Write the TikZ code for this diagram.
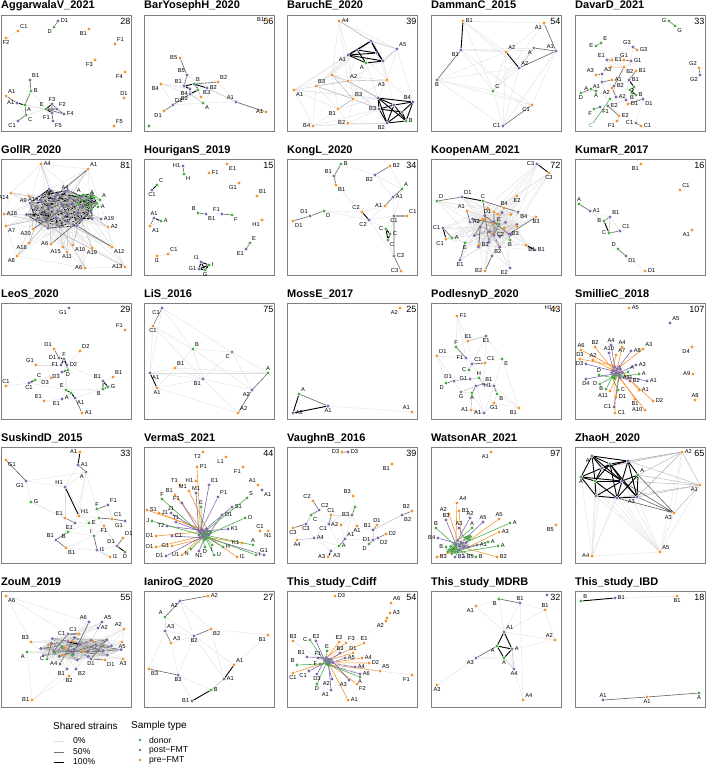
\documentclass[tikz,border=0pt]{standalone}
\usepackage{fontspec}
\setmainfont{Liberation Sans}
\usetikzlibrary{backgrounds}

\definecolor{cdon}{RGB}{77,170,74}
\definecolor{cpst}{RGB}{125,105,172}
\definecolor{cpre}{RGB}{242,148,48}

\tikzset{
  nd/.style={circle,inner sep=0pt,minimum size=3.4pt},
  ndon/.style={nd,fill=cdon,every label/.append style={text=cdon}},
  npst/.style={nd,fill=cpst,every label/.append style={text=cpst}},
  npre/.style={nd,fill=cpre,every label/.append style={text=cpre}},
  every label/.style={font=\fontsize{5.7}{6}\selectfont,inner sep=0.7pt},
  lbl/.style={font=\fontsize{5.7}{6}\selectfont,inner sep=0.7pt},
  e0/.style={draw=black!13,line width=0.35pt},
  e1/.style={draw=black!30,line width=0.45pt},
  e2/.style={draw=black!58,line width=0.65pt},
  e3/.style={draw=black,line width=0.9pt},
  ldon/.style={draw=cdon,line width=0.6pt},
  lpst/.style={draw=cpst,line width=0.6pt},
  lpre/.style={draw=cpre,line width=0.6pt},
  pbox/.style={draw=black!50,line width=0.8pt},
  ttl/.style={anchor=base west,inner sep=0pt,font=\bfseries\fontsize{11}{13}\selectfont},
  cnt/.style={anchor=north east,inner sep=0pt,font=\fontsize{9}{11}\selectfont},
  legt/.style={anchor=west,inner sep=0pt,font=\fontsize{10}{12}\selectfont},
  legi/.style={anchor=west,inner sep=0pt,font=\fontsize{8.6}{10}\selectfont},
}

% frame, title and count of one panel
\newcommand{\panelframe}[2]{%
  \draw[pbox] (0,0) rectangle (130,116);
  \node[ttl] (title) at (0,-6) {#1};
  \node[cnt] (count) at (129.5,3) {#2};}
% a cloud of unlabeled samples: name, count, cx, cy, rx, ry, style
\newcommand{\cloud}[7]{%
  \foreach \i in {1,...,#2}{%
    \pgfmathsetmacro{\rr}{sqrt((\i-0.5)/#2)}%
    \node[#7] (#1\i) at ({#3+#5*\rr*cos(137.5*\i)},{#4+#6*\rr*sin(137.5*\i)}) {};}}
% links inside a cloud: name, count, steps, style
\newcommand{\mesh}[4]{%
  \foreach \i in {1,...,#2}{\foreach \s in {#3}{%
    \pgfmathtruncatemacro{\j}{mod(\i+\s-1,#2)+1}%
    \draw[#4] (#1\i) -- (#1\j);}}}
% links from listed nodes into a cloud: cloud, count, nodes, steps, style
\newcommand{\fan}[5]{%
  \foreach \t [count=\k] in {#3}{\foreach \s in {#4}{%
    \pgfmathtruncatemacro{\j}{mod(3*\k+\s,#2)+1}%
    \draw[#5] (\t) -- (#1\j);}}}

\begin{document}
\begin{tikzpicture}[x=1pt,y=-1pt]
\useasboundingbox (0,0) rectangle (706,768);

%% row 1
\begin{scope}[shift={(1,15)},name prefix=agg-]
\panelframe{AggarwalaV\_2021}{28}
\node[npre,label=above right:C1] (rC1) at (17,16) {};
\node[npre,label=below:F2] (rF2) at (5,23) {};
\node[npst,label=right:D1] (tD1) at (57,6) {};
\node[ndon,label=below left:D] (dD) at (53,12) {};
\node[npre,label=below left:B1] (rB1) at (88,14) {};
\node[npre,label=above right:F1] (rF1) at (114,29) {};
\node[npre,label=below left:F3] (rF3) at (94,45) {};
\node[npre,label=below left:F4] (rF4) at (124,57) {};
\node[npre,label=above:D1] (rD1) at (123,83) {};
\node[npre,label=above right:F5] (rF5) at (113,111) {};
\node[npst,label=above right:B1] (tB1) at (29,65) {};
\node[ndon,label=right:B] (dB) at (30,76) {};
\node[npre,label=above right:A1] (rA1) at (5,81) {};
\node[npst,label=left:A1] (tA1) at (16,88) {};
\node[ndon,label=below right:A] (dA) at (24,90) {};
\node[ndon,label=above left:E] (dE) at (45,94) {};
\node[ndon,label=below right:C] (dC) at (25,100) {};
\node[npst,label=below left:C1] (tC1) at (17,106) {};
\node[npst,label=above:F3] (tF3) at (51,89) {};
\node[npst,label=above right:F2] (tF2) at (56,94) {};
\node[npst,label=right:F4] (tF4) at (63,99) {};
\node[npst,label=below left:F1] (tF1) at (51,98) {};
\node[npst,label=below right:F5] (tF5) at (52,106) {};
\begin{scope}[on background layer]
\draw[e0] (rC1) -- (rF2) (tB1) -- (dA) (dB) -- (dE) (dA) -- (dE) (tA1) -- (dC) (dC) -- (dE) (dE) -- (tF5) (dA) -- (tF4);
\draw[e2] (dD) -- (tD1) (tB1) -- (dB) (dB) -- (dA) (rA1) -- (tA1) (dA) -- (dC) (dC) -- (tC1);
\draw[e3] (tA1) -- (dA) (dE) -- (tF3) (dE) -- (tF2) (dE) -- (tF1);
\draw[e2] (dE) -- (tF4) (tF3) -- (tF1) (tF2) -- (tF4) (tF1) -- (tF5) (tF3) -- (tF2);
\end{scope}
\end{scope}

\begin{scope}[shift={(144,15)},name prefix=byh-]
\panelframe{BarYosephH\_2020}{56}
\node[npre,label=left:B1] (rB1) at (123,5) {};
\node[npre,label=left:B5] (rB5) at (36,43) {};
\node[npst,label=above left:B5] (tB5) at (43,60) {};
\node[npst,label=above left:B1] (tB1) at (40,71) {};
\node[ndon,label=above right:B] (dB) at (50,69) {};
\node[npre,label=above right:B2] (rB2) at (74,67) {};
\node[npst,label=right:B2] (tB2) at (63,73) {};
\node[npre,label=below left:B4] (rB4) at (17,69) {};
\node[npst,label=below left:B4] (tB4) at (46,74) {};
\node[npst,label=below left:B3] (tB3) at (46,79) {};
\node[npre,label=above right:B3] (rB3) at (57,82) {};
\node[npst,label=above right:D1] (tD1) at (29,90) {};
\node[npre,label=below left:D1] (rD1) at (20,96) {};
\node[ndon,label=below right:A] (dA) at (59,88) {};
\node[npst,label=above left:A1] (tA1) at (92,87) {};
\node[npre,label=left:A1] (rA1) at (122,97) {};
\node[ndon] (dD) at (5,111) {};
\node[ndon] (dB2) at (54,75) {};
\node[npst] (tX) at (52,70) {};
\begin{scope}[on background layer]
\draw[e0] (rB4) -- (tB1) (rB4) -- (tD1) (rB4) -- (tB3) (rB2) -- (tA1) (dA) -- (tA1) (tB5) -- (tB2) (rB4) -- (tB4) (tD1) -- (dA) (rB3) -- (tB2) (rB2) -- (dA);
\draw[e1] (tB3) -- (dA) (dB2) -- (rB3) (tB2) -- (tA1);
\draw[e2] (rB5) -- (tB5) (tB5) -- (tB1) (tB3) -- (tD1) (tD1) -- (rD1) (tA1) -- (rA1) (dB) -- (rB2);
\draw[e3] (tB1) -- (dB) (dB) -- (tB2) (tB1) -- (tB4) (tB4) -- (tB3) (dB2) -- (tX) (tX) -- (dB) (dB2) -- (tB3);
\end{scope}
\end{scope}

\begin{scope}[shift={(287,15)},name prefix=bch-]
\panelframe{BaruchE\_2020}{39}
\node[npre,label=right:A4] (rA4) at (52,6) {};
\node[npst,label=above right:A5] (tA5) at (110,34) {};
\node[npst] (t1) at (84,26) {};
\node[npst,label=below left:A1] (t2) at (61,40) {};
\node[npst] (t3) at (96,46) {};
\node[npst] (t4) at (90,38) {};
\node[npst] (t5) at (70,35) {};
\node[ndon,label=below left:A] (dA) at (79,48) {};
\node[npre,label=below right:A1] (rA1) at (7,75) {};
\node[npre,label=above right:B3] (r1) at (29,71) {};
\node[npre] (r2) at (45,60) {};
\node[npre,label=above right:A2] (r3) at (61,66) {};
\node[npre,label=below left:A3] (r4) at (100,65) {};
\node[npre,label=above right:B3] (r5) at (66,84) {};
\node[npre,label=below left:B1] (rB1) at (51,94) {};
\node[npre,label=left:B4] (rB4) at (26,111) {};
\node[npre,label=left:B2] (rB2) at (61,108) {};
\node[npst] (b1) at (91,83) {};
\node[npst] (b2) at (107,90) {};
\node[npst,label=above left:B4] (tB4) at (126,87) {};
\node[npst,label=left:B3] (b3) at (92,94) {};
\node[npst,label=below left:B2] (tB2) at (100,108) {};
\node[ndon,label=right:B] (dB) at (119,106) {};
\node[npst] (b4) at (115,97) {};
\begin{scope}[on background layer]
\foreach \a/\b in {rA4/t1,rA4/t2,rA4/r2,rA1/r1,rA1/r2,rA1/t2,rA1/rB4,rA1/r3,rA1/b1,r1/r2,r1/rB1,r1/rB4,r1/r5,r2/t2,r2/r4,r2/b1,r3/t5,r3/b1,r4/tA5,r4/t3,r4/b1,r4/tB4,r5/rB1,r5/b1,r5/b3,r5/rB2,rB1/rB2,rB1/rB4,rB1/b1,rB2/rB4,rB2/tB2,rB2/b3,tA5/tB4,tA5/r3,t1/r2,dA/r5,t5/r1,rA1/tB4,r1/t1,r2/b3,r3/tB2,t2/r5,t4/r4,rA4/tA5,rA1/t5,r4/r5,b2/r3,rB4/b3,rA4/r3,t2/r1,t3/b2,dA/b1,rB4/tB2,rA1/rB1,t5/r4,r2/rB1}
  \draw[e0] (\a) -- (\b);
\foreach \a/\b in {r2/r3,r3/r4,r1/r5,r3/b1,rA4/t1,t1/tA5,tA5/t3,r1/r3,r5/b3,r2/r5,rB1/r5}
  \draw[e1] (\a) -- (\b);
\foreach \a/\b in {t1/t2,t1/t3,t1/t4,t2/t4,t2/t5,t5/t4,t5/dA,t2/dA,t4/t3,t3/dA,t2/t3,t5/t1,b1/b2,b1/tB4,b1/b3,b1/tB2,b2/tB4,b2/b3,b2/dB,tB4/b4,tB4/dB,b3/tB2,b3/b4,tB2/dB,tB2/b4,b4/dB,b1/dB,b2/tB2}
  \draw[e3] (\a) -- (\b);
\end{scope}
\end{scope}

\begin{scope}[shift={(431,15)},name prefix=dam-]
\panelframe{DammanC\_2015}{54}
\node[npre,label=right:B1] (rB1) at (32,6) {};
\node[npst,label=below left:B1] (tB1) at (30,35) {};
\node[npre,label=below left:A1] (rA1) at (113,8) {};
\node[npst,label=above left:A1] (tA1) at (125,36) {};
\node[npre,label=above right:A2] (rA2) at (75,37) {};
\node[ndon,label=below left:A] (dA) at (103,33) {};
\node[npst,label=above right:A2] (tA2) at (88,53) {};
\node[ndon,label=below:B] (dB) at (6,65) {};
\node[ndon,label=above right:C] (dC) at (62,76) {};
\node[npre,label=below left:C1] (rC1) at (101,90) {};
\node[npst,label=left:C1] (tC1) at (72,111) {};
\begin{scope}[on background layer]
\foreach \a/\b in {tB1/rA2,tB1/dA,tB1/tA1,tB1/rC1,tB1/dC,dB/rA2,dB/dC,dB/rC1,rB1/rA1,rB1/dC,rB1/tA2,rA1/rA2,rA1/dC,rA2/dC,tA2/dC,dC/tC1,dC/rC1,tA1/rC1,tA2/tC1,dB/tC1,rA2/tC1,dA/dC,rB1/rA2,dB/tA2,tA1/tC1}
  \draw[e0] (\a) -- (\b);
\draw[e1] (dA) -- (tA2);
\draw[e2] (rA1) -- (tA1) (tA1) -- (dA) (tA1) -- (tA2) (rC1) -- (tC1) (tB1) -- (dB);
\draw[e3] (rB1) -- (tB1) (rA2) -- (tA2);
\end{scope}
\end{scope}

\begin{scope}[shift={(575,15)},name prefix=dav-]
\panelframe{DavarD\_2021}{33}
\node[ndon,label=left:G] (dG1) at (94,6) {};
\node[ndon,label=below right:G] (dG2) at (100,11) {};
\node[ndon,label=left:E] (dE1) at (21,31) {};
\node[ndon,label=above right:E] (dE2) at (26,28) {};
\node[npst,label=above left:E1] (tE1) at (32,45) {};
\node[npst,label=above left:G3] (tG3) at (58,32) {};
\node[npre,label=right:G3] (rG3) at (62,35) {};
\node[npre,label=above:G1] (rG1) at (49,45) {};
\node[npst,label=right:G1] (tG1) at (56,46) {};
\node[npre,label=right:E1] (rE1) at (37,45) {};
\node[npre,label=above left:A3] (rA3) at (21,60) {};
\node[npst,label=above right:A3] (tA3) at (27,59) {};
\node[npst,label=below left:A1] (tA1) at (27,67) {};
\node[npre] (rX) at (36,52) {};
\node[npre,label=right:A1] (rA1) at (37,65) {};
\node[npre,label=below right:B2] (rB2) at (49,52) {};
\node[npre,label=right:B1] (rB1) at (61,56) {};
\node[npst,label=right:B2] (tB2) at (39,71) {};
\node[npst,label=right:B1] (tB1) at (54,65) {};
\node[ndon,label=left:A] (dA1) at (16,74) {};
\node[ndon,label=below:A] (dA2) at (21,76) {};
\node[ndon,label=below:D] (dD) at (6,78) {};
\node[npre,label=below left:A2] (rA2) at (37,73) {};
\node[ndon] (dB1) at (55,75) {};
\node[ndon] (dB2) at (59,72) {};
\node[ndon,label=below:B] (dB3) at (57,78) {};
\node[ndon,label=right:B] (dB4) at (61,80) {};
\node[npst,label=right:A2] (tA2) at (41,82) {};
\node[ndon] (dC) at (35,84) {};
\node[npst,label=right:E2] (tE2) at (33,91) {};
\node[npre,label=right:D1] (rD1) at (53,89) {};
\node[npst,label=below right:D1] (tD1) at (68,84) {};
\node[npst] (tX) at (51,85) {};
\node[ndon,label=below left:F] (dF) at (19,94) {};
\node[npst,label=below right:F1] (tF1) at (25,92) {};
\node[npre,label=right:E2] (rE2) at (44,101) {};
\node[npre,label=below left:F1] (rF1) at (42,106) {};
\node[npst,label=left:C1] (tC1) at (61,108) {};
\node[npre,label=right:C1] (rC1) at (66,111) {};
\node[npre,label=above left:G2] (rG2) at (124,53) {};
\node[npst,label=below left:G2] (tG2) at (125,60) {};
\node[lbl,text=cdon] (labC) at (16,111) {C};
\begin{scope}[on background layer]
\foreach \a/\b in {tE1/tG3,tE1/tG1,tE1/rX,tE1/tA3,tE1/rB2,tG3/tG1,tG1/tB1,tA3/tA1,tA3/rX,tA1/tB2,tA1/dA2,tB2/tB1,tB2/tA2,tB1/tX,tX/tE2,tX/tD1,tA2/tE2,tA2/tX,tE2/tC1,tD1/tC1,dA2/dC,dC/tA2,tB1/tD1,rX/rB2,tE1/dE2,tG1/tB2,tA1/tE2,dA1/tA1,dD/dA2,rE2/rF1}
  \draw[e0] (\a) -- (\b);
\draw[e2] (dG1) -- (dG2) (dE1) -- (dE2) (rG3) -- (tG3) (rG1) -- (tG1) (rE1) -- (tE1) (rA3) -- (tA3) (rA1) -- (tA1) (rB2) -- (tB2) (rB1) -- (tB1) (rA2) -- (tA2) (rD1) -- (tD1) (rE2) -- (tE2) (rC1) -- (tC1) (rG2) -- (tG2) (dA1) -- (dA2) (dA1) -- (dD) (dF) -- (tF1);
\draw[e3] (dB1) -- (dB2) (dB2) -- (dB3) (dB3) -- (dB4) (dB1) -- (dB4) (tB1) -- (dB2);
\draw[ldon] (dC) -- (labC);
\end{scope}
\end{scope}

%% row 2
\begin{scope}[shift={(1,159)},name prefix=gol-]
\panelframe{GollR\_2020}{81}
\cloud{h}{30}{60}{50}{36}{22}{npst}
\cloud{g}{12}{87}{42}{12}{9}{ndon}
\node[ndon,label=above left:A] (dA1) at (82,36) {};
\node[ndon,label=above:A] (dA2) at (91,38) {};
\node[ndon,label=above right:A] (dA3) at (99,41) {};
\node[ndon,label=right:A] (dA4) at (97,48) {};
\node[npst,label=above:A4] (tA4) at (64,33) {};
\node[npst,label=above left:A5] (tA5) at (54,38) {};
\node[npst,label=left:A14] (tA14) at (40,41) {};
\node[npst,label=right:A19] (tA19) at (100,60) {};
\node[npre,label=right:A4] (rA4) at (40,5) {};
\node[npre,label=above right:A1] (rA1) at (87,10) {};
\node[npre,label=below left:A14] (rA14) at (10,34) {};
\node[npre,label=below left:A9] (rA9) at (28,37) {};
\node[npre,label=right:A18] (rA18) at (3,55) {};
\node[npre,label=below right:A7] (rA7) at (5,67) {};
\node[npre,label=below left:A20] (rA20) at (32,70) {};
\node[npre,label=below left:A16] (rA16) at (28,84) {};
\node[npre,label=below left:A8] (rA8) at (16,97) {};
\node[npre,label=left:A6] (rA6) at (50,85) {};
\node[npre,label=below left:A15] (rA15) at (62,88) {};
\node[npre,label=below:A11] (rA11) at (66,93) {};
\node[npre,label=below right:A10] (rA10) at (72,86) {};
\node[npre,label=below:A19] (rA19) at (91,89) {};
\node[npre,label=left:A6] (rA6b) at (84,109) {};
\node[npre,label=left:A13] (rA13) at (124,108) {};
\node[npre,label=below right:A12] (rA12) at (111,88) {};
\node[npre,label=right:A2] (rA2) at (107,68) {};
\begin{scope}[on background layer]
\mesh{h}{30}{1,4,9,14}{e0}
\mesh{h}{30}{2,11}{e1}
\mesh{h}{30}{6}{e2}
\mesh{h}{30}{1,3}{e3}
\mesh{g}{12}{1,3,5}{e3}
\fan{h}{30}{dA1,dA2,dA3,dA4,tA4,tA5,tA14,tA19}{0,10}{e1}
\fan{g}{12}{dA1,dA2,dA3,dA4}{0}{ldon}
\fan{h}{30}{g1,g2,g3,g4,g5,g6,g7,g8,g9,g10,g11,g12}{2,17}{e1}
\fan{h}{30}{rA4,rA1,rA14,rA9,rA18,rA7,rA20,rA16,rA8,rA6,rA15,rA11,rA10,rA19,rA6b,rA13,rA12,rA2}{0,7,14,21}{e0}
\fan{h}{30}{rA4,rA1,rA14,rA9,rA18,rA7,rA20,rA16,rA8,rA6,rA15,rA11,rA10,rA19,rA6b,rA13,rA12,rA2}{3}{e1}
\fan{h}{30}{rA1,rA20,rA6,rA12}{11}{e2}
\draw[e0] (rA4) -- (rA1) (rA14) -- (rA18) (rA18) -- (rA7) (rA7) -- (rA8) (rA8) -- (rA6b) (rA6b) -- (rA13) (rA13) -- (rA12) (rA12) -- (rA2) (rA2) -- (rA1) (rA4) -- (rA14);
\end{scope}
\end{scope}

\begin{scope}[shift={(144,159)},name prefix=hou-]
\panelframe{HouriganS\_2019}{15}
\node[npst,label=left:H1] (tH1) at (39,7) {};
\node[ndon,label=below right:H] (dH) at (40,15) {};
\node[npre,label=right:F1] (rF1) at (65,14) {};
\node[npre,label=below right:E1] (rE1) at (83,5) {};
\node[npre,label=below left:G1] (rG1) at (95,24) {};
\node[npre,label=above right:B1] (rB1) at (113,37) {};
\node[ndon,label=above right:C] (dC) at (13,26) {};
\node[npst,label=below:C1] (tC1) at (8,31) {};
\node[npst,label=above:A1] (tA1) at (10,59) {};
\node[ndon,label=right:A] (dA) at (17,62) {};
\node[npre,label=below right:A1] (rA1) at (6,67) {};
\node[ndon,label=above left:B] (dB) at (54,54) {};
\node[npst,label=below right:B1] (tB1) at (62,55) {};
\node[npst,label=above left:F1] (tF1) at (78,55) {};
\node[ndon,label=below right:F] (dF) at (88,56) {};
\node[npre,label=below left:H1] (rH1) at (118,61) {};
\node[ndon,label=above right:E] (dE) at (106,84) {};
\node[npst,label=below left:E1] (tE1) at (102,90) {};
\node[npre,label=above right:C1] (rC1) at (24,95) {};
\node[npre,label=below:I1] (rI1) at (13,97) {};
\node[npst,label=above left:I1] (tI1) at (57,103) {};
\node[ndon,label=right:I] (dI) at (65,106) {};
\node[npst,label=left:G1] (tG1) at (55,110) {};
\node[ndon,label=below:G] (dG) at (61,111) {};
\begin{scope}[on background layer]
\draw[e0] (rC1) -- (rI1) (tB1) -- (tF1) (dA) -- (rA1);
\draw[e2] (tH1) -- (dH) (tA1) -- (rA1) (dB) -- (tB1) (tF1) -- (dF) (dE) -- (tE1);
\draw[e3] (dC) -- (tC1) (tA1) -- (dA) (tI1) -- (dI) (dI) -- (dG) (tG1) -- (dG) (tI1) -- (tG1) (tI1) -- (dG) (dI) -- (tG1);
\end{scope}
\end{scope}

\begin{scope}[shift={(287,159)},name prefix=kon-]
\panelframe{KongL\_2020}{34}
\node[ndon,label=right:B] (dB) at (54,5) {};
\node[npst,label=above left:B1] (tB1) at (47,17) {};
\node[npre,label=below right:B1] (rB1) at (49,26) {};
\node[npre,label=right:B2] (rB2) at (103,7) {};
\node[npst,label=below left:B2] (tB2) at (88,16) {};
\node[ndon,label=above right:A] (dA) at (115,30) {};
\node[npst,label=right:A1] (tA1) at (106,38) {};
\node[npre,label=left:A1] (rA1) at (98,47) {};
\node[npre,label=above left:C2] (rC2) at (75,53) {};
\node[npre,label=above right:C1] (rC1) at (120,57) {};
\node[npst,label=below:C1] (tC1) at (107,57) {};
\node[npst,label=below left:C2] (tC2) at (82,61) {};
\node[npst,label=above left:D1] (tD1) at (23,57) {};
\node[ndon,label=below right:D] (dD) at (37,52) {};
\node[npre,label=below right:D1] (rD1) at (6,62) {};
\node[ndon,label=left:C] (dC1) at (99,70) {};
\node[ndon,label=right:C] (dC2) at (103,75) {};
\node[ndon,label=below right:C] (dC3) at (101,81) {};
\node[npst,label=right:C3] (tC3) at (107,97) {};
\node[npre,label=left:C3] (rC3) at (114,112) {};
\begin{scope}[on background layer]
\foreach \a/\b in {dB/tB2,rB1/rC2,tB2/tA1,tB2/dA,dD/tC2,tC2/tC1,tC2/dC1,tC1/dC1,tC1/dC2,tA1/tC1,rA1/rC2,rA1/tC2,dC3/tC3,tC2/tC3,dA/tC1,rB2/dA,dD/rC2}
  \draw[e0] (\a) -- (\b);
\draw[e2] (dB) -- (tB1) (tB1) -- (rB1) (rB2) -- (tB2) (tA1) -- (rA1) (dA) -- (tA1) (dD) -- (tD1) (tD1) -- (rD1) (tC3) -- (rC3) (tC1) -- (tC3);
\draw[e3] (rC2) -- (tC2) (tC1) -- (rC1) (dC1) -- (dC2) (dC2) -- (dC3) (dC1) -- (dC3);
\end{scope}
\end{scope}

\begin{scope}[shift={(431,159)},name prefix=koo-]
\panelframe{KoopenAM\_2021}{72}
\cloud{c}{14}{62}{70}{26}{22}{npst}
\cloud{o}{8}{66}{62}{22}{16}{npre}
\node[npst,label=left:C3] (tC3) at (106,5) {};
\node[npre,label=below:C3] (rC3) at (118,14) {};
\node[ndon,label=above right:D] (dD) at (6,42) {};
\node[npst,label=above right:D1] (tD1) at (31,38) {};
\node[ndon,label=above:C] (dC) at (52,42) {};
\node[npre,label=above left:A1] (rA1) at (36,52) {};
\node[npre,label=left:D1] (rD1) at (63,53) {};
\node[npre,label=below:E2] (rE2) at (86,37) {};
\node[npre,label=above:B4] (rB4) at (73,49) {};
\node[npst,label=below right:B4] (tB4) at (87,53) {};
\node[npre,label=below:B3] (rB3) at (105,58) {};
\node[npst,label=right:A2] (tA2) at (39,63) {};
\node[npre] (rA2) at (54,60) {};
\node[ndon,label=above:E] (dE) at (68,65) {};
\node[npst,label=left:C1] (tC1) at (12,69) {};
\node[npre,label=below left:C1] (rC1) at (15,80) {};
\node[ndon,label=right:A] (dA) at (21,79) {};
\node[ndon,label=below:E] (dE2) at (34,84) {};
\node[npst,label=right:C2] (tC2) at (63,76) {};
\node[npst,label=right:B3] (tB3) at (78,75) {};
\node[ndon,label=below:B] (dB) at (79,81) {};
\node[npre,label=right:B1] (rB1) at (48,86) {};
\node[npst,label=above right:B2] (tB2) at (61,97) {};
\node[npst,label=right:B1] (tB1) at (104,91) {};
\node[npre,label=below right:B1] (rB1b) at (95,86) {};
\node[npst,label=below:E1] (tE1) at (29,101) {};
\node[npre,label=left:B2] (rB2) at (54,112) {};
\node[npst,label=below left:E2] (tE2) at (79,109) {};
\begin{scope}[on background layer]
\mesh{c}{14}{1,2,3,5}{e0}
\mesh{c}{14}{4}{e2}
\mesh{o}{8}{1,3}{e0}
\fan{c}{14}{tC3,rC3,dD,tD1,dC,rA1,rD1,rE2,rB4,tB4,rB3,tA2,rA2,dE,tC1,rC1,dA,dE2,tC2,tB3,dB,rB1,tB2,tB1,rB1b,tE1,rB2,tE2}{0,4,8}{e0}
\fan{o}{8}{tC3,rC3,dD,tD1,dC,rA1,rD1,rE2,rB4,tB4,rB3,tA2,rA2,dE,tC1,rC1,dA,dE2,tC2,tB3,dB,rB1,tB2,tB1,rB1b,tE1,rB2,tE2}{1,5}{e0}
\fan{c}{14}{dC,rA2,dE,tC2,rB1,tB3}{2}{e2}
\draw[e2] (dD) -- (tD1) (dC) -- (tB4) (tC1) -- (dA) (tE1) -- (dE2) (rB2) -- (tB2) (dB) -- (tB3) (tB3) -- (rB3) (dE) -- (tC2) (rD1) -- (tC2) (rA1) -- (tA2);
\draw[e3] (tC3) -- (rC3) (tD1) -- (dC) (tC1) -- (rC1) (tB1) -- (rB1b);
\end{scope}
\end{scope}

\begin{scope}[shift={(575,159)},name prefix=kum-]
\panelframe{KumarR\_2017}{16}
\node[npre,label=below left:B1] (rB1) at (66,5) {};
\node[npre,label=above right:C1] (rC1) at (105,31) {};
\node[ndon,label=above:A] (dA) at (4,45) {};
\node[npst,label=right:A1] (tA1) at (15,52) {};
\node[npst,label=above right:B1] (tB1) at (35,58) {};
\node[ndon,label=left:B] (dB) at (29,62) {};
\node[npst,label=above right:C1] (tC1) at (45,72) {};
\node[ndon,label=left:C] (dC) at (34,74) {};
\node[npre,label=below left:A1] (rA1) at (117,71) {};
\node[ndon,label=above left:D] (dD) at (43,90) {};
\node[npst,label=below right:D1] (tD1) at (51,97) {};
\node[npre,label=right:D1] (rD1) at (70,112) {};
\begin{scope}[on background layer]
\draw[e0] (tA1) -- (dB) (tA1) -- (tB1) (tB1) -- (tC1) (dC) -- (dD) (tD1) -- (rD1);
\draw[e1] (tB1) -- (dC);
\draw[e2] (dA) -- (tA1) (dB) -- (tB1) (dC) -- (tC1) (dD) -- (tD1);
\draw[e3] (dB) -- (dC);
\end{scope}
\end{scope}

%% row 3
\begin{scope}[shift={(1,303)},name prefix=leo-]
\panelframe{LeoS\_2020}{29}
\node[npst,label=below left:G1] (tG1) at (68,5) {};
\node[npre,label=above left:F1] (rF1) at (124,27) {};
\node[npre,label=above left:D1] (rD1) at (53,46) {};
\node[npre,label=above right:D2] (rD2) at (79,48) {};
\node[npst,label=left:D1] (tD1) at (58,55) {};
\node[ndon,label=above:F] (dF) at (63,56) {};
\node[npst,label=left:F1] (tF1) at (60,62) {};
\node[npst,label=right:D2] (tD2) at (66,62) {};
\node[npre,label=above left:G1] (rG1) at (35,62) {};
\node[ndon,label=below:D] (dD) at (67,67) {};
\node[npst,label=below left:D3] (tD3) at (61,69) {};
\node[ndon,label=above right:C] (dC) at (34,77) {};
\node[npst,label=below:C1] (tC1) at (28,80) {};
\node[npre,label=above:C1] (rC1) at (5,83) {};
\node[npre,label=below left:D3] (rD3) at (50,75) {};
\node[npst,label=above left:B1] (tB1) at (102,78) {};
\node[npre,label=above right:B1] (rB1) at (112,74) {};
\node[ndon,label=right:G] (dG) at (107,84) {};
\node[ndon,label=below left:B] (dB) at (102,86) {};
\node[ndon,label=above left:E] (dE) at (65,87) {};
\node[npre,label=above left:E1] (rE1) at (43,98) {};
\node[npst,label=below left:E1] (tE1) at (61,96) {};
\node[ndon,label=below left:A] (dA) at (70,90) {};
\node[npst,label=below right:A1] (tA1) at (74,95) {};
\node[npre,label=right:A1] (rA1) at (81,110) {};
\begin{scope}[on background layer]
\foreach \a/\b in {rG1/tF1,rD2/tD2,tC1/rC1,tC1/tD3,rD3/tD3,dD/dE,tD2/tB1,tB1/rB1,dE/tE1,tE1/rE1,dE/dB,dF/dE,tE1/dA,tC1/dE,tA1/dB}
  \draw[e0] (\a) -- (\b);
\draw[e2] (rD1) -- (tD1) (dF) -- (dD) (tA1) -- (rA1);
\draw[e3] (tD1) -- (dF) (dF) -- (tF1) (dF) -- (tD2) (dD) -- (tD3) (dC) -- (tC1) (tB1) -- (dG) (tB1) -- (dB) (dG) -- (dB) (dE) -- (dA) (dA) -- (tA1);
\end{scope}
\end{scope}

\begin{scope}[shift={(144,303)},name prefix=lis-]
\panelframe{LiS\_2016}{75}
\node[npst,label=below left:C1] (tC1) at (18,5) {};
\node[npre,label=below:C1] (rC1) at (9,23) {};
\node[ndon,label=above right:B] (dB) at (49,46) {};
\node[ndon,label=below left:C] (dC) at (88,49) {};
\node[npre,label=above right:B1] (rB1) at (31,65) {};
\node[npst,label=below right:A1] (tA1) at (6,70) {};
\node[ndon,label=above:A] (dA) at (124,70) {};
\node[npst,label=below left:B1] (tB1) at (59,76) {};
\node[npre,label=below:A1] (rA1) at (13,85) {};
\node[npst,label=below left:A2] (tA2) at (108,87) {};
\node[npre,label=above right:A2] (rA2) at (94,110) {};
\begin{scope}[on background layer]
\foreach \a/\b in {tC1/dB,tC1/dC,rC1/tA1,rC1/dB,rC1/tB1,dB/dC,dB/rB1,dB/tB1,dB/tA2,dC/dA,dC/tB1,dC/tA2,rB1/tA1,rB1/tB1,rB1/rA1,tA1/tB1,tA1/dA,tB1/tA2,tB1/rA2,rA1/rA2,rA1/tB1,tC1/tA1,rB1/dA}
  \draw[e0] (\a) -- (\b);
\draw[e2] (tC1) -- (rC1) (tA2) -- (rA2) (dA) -- (tA2);
\draw[e3] (tA1) -- (rA1);
\end{scope}
\end{scope}

\begin{scope}[shift={(287,303)},name prefix=mos-]
\panelframe{MossE\_2017}{25}
\node[ndon,label=above right:A] (dA) at (12,91) {};
\node[npst,label=right:A2] (tA2) at (6,110) {};
\node[npst,label=below:A1] (tA1) at (41,103) {};
\node[npre,label=below left:A2] (rA2) at (113,5) {};
\node[npre,label=above left:A1] (rA1) at (125,109) {};
\begin{scope}[on background layer]
\draw[e0] (tA1) -- (rA1);
\draw[e2] (dA) -- (tA1);
\draw[e3] (dA) -- (tA2) (tA2) -- (tA1);
\end{scope}
\end{scope}

\begin{scope}[shift={(431,303)},name prefix=pod-]
\panelframe{PodlesnyD\_2020}{43}
\node[npre,label=left:H1] (rH1) at (124,5) {};
\node[npre,label=right:F1] (rF1) at (26,13) {};
\node[npre,label=above:E1] (rE1) at (37,38) {};
\node[npst,label=below:E1] (tE1) at (55,33) {};
\node[ndon,label=above:F] (dF) at (25,44) {};
\node[npre,label=above right:D1] (rD1) at (6,53) {};
\node[npst,label=left:F1] (tF1) at (35,55) {};
\node[npst,label=above right:C1] (tC1) at (41,61) {};
\node[npre,label=above right:C1] (rC1) at (54,60) {};
\node[ndon,label=below right:E] (dE) at (71,56) {};
\node[ndon,label=left:C] (dC) at (38,67) {};
\node[ndon,label=above:H] (dH) at (48,75) {};
\node[npst,label=above left:D1] (tD1) at (23,78) {};
\node[ndon,label=below left:D] (dD) at (15,80) {};
\node[npst,label=left:G1] (tG1) at (39,76) {};
\node[npst,label=above right:B1] (tB1) at (52,81) {};
\node[npst] (tX) at (45,83) {};
\node[ndon,label=below:G] (dG) at (30,89) {};
\node[ndon,label=below:A] (dA) at (41,90) {};
\node[npst,label=left:H1] (tH1) at (63,83) {};
\node[ndon,label=below right:B] (dB) at (66,91) {};
\node[npre,label=left:A1] (rA1) at (40,107) {};
\node[npst,label=left:A1] (tA1) at (53,110) {};
\node[npre,label=below:G1] (rG1) at (63,100) {};
\node[npre,label=below left:B1] (rB1) at (88,105) {};
\begin{scope}[on background layer]
\foreach \a/\b in {rF1/dF,rF1/tF1,rE1/dF,rE1/tC1,tE1/tC1,tE1/dE,tE1/rC1,tF1/tC1,tF1/dC,rC1/dE,rC1/tB1,dE/tH1,dE/rB1,rD1/tD1,tD1/dG,tG1/dC,tG1/tX,dG/dA,dA/tA1,tA1/rG1,tX/tA1,rD1/dD,tH1/rB1,dB/rB1,tC1/tB1,rD1/tF1,dH/tH1,tA1/tH1,dB/rG1,rG1/rB1,rF1/rE1,tE1/rE1}
  \draw[e0] (\a) -- (\b);
\draw[e1] (rE1) -- (tE1) (tC1) -- (dC) (tD1) -- (tG1) (tG1) -- (dH) (dH) -- (tB1) (tB1) -- (tH1) (dG) -- (tX) (rA1) -- (dA) (rA1) -- (tA1);
\draw[e2] (dF) -- (tF1) (tC1) -- (rC1) (tD1) -- (dD) (tB1) -- (tX) (tX) -- (dA) (tH1) -- (dB);
\end{scope}
\end{scope}

\begin{scope}[shift={(575,303)},name prefix=smi-]
\panelframe{SmillieC\_2018}{107}
\cloud{h}{10}{42}{68}{6}{5}{npst}
\cloud{g}{3}{38}{74}{3}{2}{ndon}
\node[npre,label=right:A5] (rA5) at (54,5) {};
\node[npst,label=above right:A5] (tA5) at (95,20) {};
\node[npre,label=below left:D4] (rD4) at (117,44) {};
\node[npre,label=left:A9] (rA9) at (118,71) {};
\node[npre,label=above:A8] (rA8) at (120,97) {};
\node[npre,label=above:B2] (rB2) at (20,44) {};
\node[npre,label=above:A6] (rA6) at (6,47) {};
\node[npre,label=above:D3] (rD3) at (5,56) {};
\node[npre,label=above:A2] (rA2) at (18,57) {};
\node[npre,label=above:A4] (rA4) at (47,44) {};
\node[npre,label=above right:A7] (rA7) at (41,52) {};
\node[npre,label=above right:A3] (rA3) at (68,46) {};
\node[npre,label=right:A1] (rA1) at (64,87) {};
\node[npre,label=right:D2] (rD2) at (78,98) {};
\node[npre,label=below:B1] (rB1) at (60,96) {};
\node[npre,label=left:A10] (rA10) at (70,107) {};
\node[npre,label=right:C1] (rC1) at (40,110) {};
\node[npre,label=right:D1] (rD1) at (41,94) {};
\node[npre,label=below left:A11] (rA11) at (35,88) {};
\node[npst,label=above:A10] (tA10) at (34,50) {};
\node[npst,label=above:A4] (tA4) at (36,42) {};
\node[npst,label=right:A8] (tA8) at (56,48) {};
\node[npst,label=right:A3] (tA3) at (61,62) {};
\node[npst,label=right:A1] (tA1) at (72,78) {};
\node[npst,label=right:B2] (tB2) at (55,78) {};
\node[npst,label=right:A11] (tA11) at (45,75) {};
\node[npst,label=left:C1] (tC1) at (39,104) {};
\node[npst,label=below:D4] (tD4) at (11,76) {};
\node[npst,label=left:D3] (tD3) at (11,61) {};
\node[ndon,label=above right:A] (dA1) at (53,69) {};
\node[ndon,label=right:A] (dA2) at (64,71) {};
\node[ndon,label=right:C] (dC) at (43,87) {};
\node[ndon,label=left:B] (dB) at (31,86) {};
\node[ndon,label=left:D] (dD1) at (25,81) {};
\node[ndon,label=above:D] (dD2) at (24,72) {};
\begin{scope}[on background layer]
\mesh{h}{10}{1,3}{e1}
\mesh{g}{3}{1}{e3}
\fan{h}{10}{rB2,rA6,rD3,rA2,rA4,rA7,rA3,rA1,rD2,rB1,rA10,rC1,rD1,rA11}{0}{lpre}
\fan{h}{10}{tA10,tA4,tA8,tA3,tA1,tB2,tA11,tC1,tD4,tD3}{0}{lpst}
\fan{g}{3}{dA1,dA2,dC,dB,dD1,dD2}{0}{ldon}
\end{scope}
\end{scope}

%% row 4
\begin{scope}[shift={(1,447)},name prefix=sus-]
\panelframe{SuskindD\_2015}{33}
\node[npre,label=left:A1] (rA1) at (79,5) {};
\node[npst,label=right:A1] (tA1) at (77,18) {};
\node[npre,label=below right:G1] (rG1) at (5,13) {};
\node[npst,label=below left:G1] (tG1) at (25,34) {};
\node[ndon,label=below left:A] (dA) at (85,25) {};
\node[npst,label=above left:H1] (tH1) at (64,40) {};
\node[ndon,label=right:G] (dG) at (30,55) {};
\node[npst,label=above right:F1] (tF1) at (107,58) {};
\node[ndon,label=above:F] (dF) at (96,62) {};
\node[npre,label=above right:H1] (rH1) at (78,69) {};
\node[npre,label=above right:C1] (rC1) at (111,72) {};
\node[npre,label=above left:E1] (rE1) at (64,71) {};
\node[npst,label=below left:E1] (tE1) at (74,76) {};
\node[ndon,label=right:E] (dE) at (88,76) {};
\node[ndon] (dC) at (98,71) {};
\node[npst,label=below left:G1] (tG1b) at (124,74) {};
\node[npre,label=below:F1] (rF1) at (103,79) {};
\node[ndon,label=below left:B] (dB) at (67,85) {};
\node[npst,label=above left:B1] (tB1) at (55,93) {};
\node[npst,label=above left:D1] (tD1) at (116,99) {};
\node[npre,label=above right:D1] (rD1) at (122,91) {};
\node[ndon,label=below:D] (dD) at (124,105) {};
\node[npre,label=below right:B1] (rB1) at (65,101) {};
\node[npst,label=right:I1] (tI1) at (96,103) {};
\node[npre,label=right:I1] (rI1) at (109,110) {};
\node[ndon,label=above left:I] (dI) at (93,89) {};
\begin{scope}[on background layer]
\foreach \a/\b in {tG1/dG,tG1/tH1,tG1/dA,tH1/dA,dA/tE1,dA/dF,dA/rH1,dG/tE1,dG/rE1,tH1/rE1,tH1/dE,rH1/dE,rH1/tF1,rH1/dC,dE/dC,dE/rF1,dC/tG1b,dF/rC1,tE1/dB,dB/dI,dI/rF1,dB/dE,tE1/tB1,rF1/tD1,dI/rB1,tD1/tI1,dE/dI,tF1/rC1,rE1/dB,dC/tD1,rB1/tI1,dF/dC,tA1/tH1}
  \draw[e0] (\a) -- (\b);
\draw[e1] (tE1) -- (dE) (tI1) -- (rI1);
\draw[e2] (rG1) -- (tG1) (tA1) -- (dA) (tI1) -- (dI) (tB1) -- (dB) (tB1) -- (rB1) (tD1) -- (rD1) (tF1) -- (dF) (rE1) -- (tE1) (dC) -- (rC1) (rC1) -- (tG1b);
\draw[e3] (rA1) -- (tA1) (tH1) -- (rH1) (tD1) -- (dD);
\end{scope}
\end{scope}

\begin{scope}[shift={(144,447)},name prefix=ver-]
\panelframe{VermaS\_2021}{44}
\cloud{h}{14}{60}{86}{7}{6}{npst}
\cloud{g}{6}{62}{88}{6}{5}{ndon}
\node[npre,label=below left:T2] (rT2) at (59,5) {};
\node[npre,label=below left:L1] (rL1) at (82,10) {};
\node[npre,label=below left:F1] (rF1) at (99,20) {};
\node[npre,label=above left:A1] (rA1) at (114,38) {};
\node[npst,label=below right:A1] (tA1) at (118,43) {};
\node[npre,label=above:C1] (rC1) at (116,84) {};
\node[npre,label=below:N1] (rN1) at (124,84) {};
\node[npre,label=above left:T1] (rT1) at (36,38) {};
\node[npre,label=left:H1] (rH1) at (52,34) {};
\node[npre,label=right:P1] (rP1) at (53,20) {};
\node[npre,label=above left:B1] (rB1) at (31,48) {};
\node[npre,label=above left:M1] (rM1) at (45,44) {};
\node[npre,label=right:S1] (rS1) at (3,63) {};
\node[npre,label=right:J1] (rJ1) at (15,66) {};
\node[npre,label=left:D1] (rD1) at (12,89) {};
\node[npre,label=left:O1] (rO1) at (12,100) {};
\node[npre,label=left:G1] (rG1) at (28,99) {};
\node[npre,label=left:U1] (rU1) at (38,108) {};
\node[npre,label=right:I1] (rI1) at (93,110) {};
\node[npre,label=left:K1] (rK1) at (98,96) {};
\node[npst,label=above right:E1] (tE1) at (65,38) {};
\node[npst,label=above right:P1] (tP1) at (74,50) {};
\node[npst,label=right:S1] (tS1) at (88,60) {};
\node[npst,label=right:O1] (tO1) at (78,68) {};
\node[npst,label=right:K1] (tK1) at (84,82) {};
\node[npst,label=left:T2] (tT2) at (23,79) {};
\node[npst,label=above:T1] (tT1) at (32,75) {};
\node[npst,label=right:C1] (tC1) at (28,89) {};
\node[npst,label=left:D1] (tD1) at (22,109) {};
\node[npst,label=below:N1] (tN1) at (55,104) {};
\node[npst,label=above:G1] (tG1) at (120,108) {};
\node[npst,label=above:M1] (tM1) at (52,46) {};
\node[npst,label=above left:F1] (tF1) at (38,56) {};
\node[npst,label=above:J1] (tJ1) at (27,66) {};
\node[ndon,label=above:F] (dF) at (18,52) {};
\node[ndon,label=left:J] (dJ) at (8,74) {};
\node[ndon,label=above right:S] (dS) at (103,51) {};
\node[ndon,label=right:O] (dO) at (101,71) {};
\node[ndon,label=above:E] (dE) at (57,60) {};
\node[ndon,label=below left:N] (dN) at (47,102) {};
\node[ndon,label=below:D] (dD) at (61,100) {};
\node[ndon,label=below:I] (dI) at (68,98) {};
\node[ndon,label=right:H] (dH) at (79,100) {};
\node[ndon,label=right:U] (dU) at (70,108) {};
\node[ndon,label=above:A] (dA) at (109,98) {};
\node[ndon,label=right:I] (dI2) at (112,108) {};
\begin{scope}[on background layer]
\mesh{h}{14}{1,3,5}{e1}
\mesh{g}{6}{1,2}{e2}
\fan{h}{14}{rP1,rB1,rM1,rS1,rJ1,rD1,rO1,rG1,rU1,rI1,rK1}{0}{lpre}
\fan{h}{14}{tE1,tP1,tS1,tO1,tK1,tT2,tT1,tC1,tD1,tN1,tG1,tM1,tF1,tJ1}{0}{lpst}
\fan{g}{6}{dF,dJ,dS,dO,dE,dN,dD,dI,dH,dU,dA,dI2}{0}{ldon}
\end{scope}
\end{scope}

\begin{scope}[shift={(287,447)},name prefix=vau-]
\panelframe{VaughnB\_2016}{39}
\node[npre,label=left:D3] (rD3) at (55,5) {};
\node[npst,label=right:D3] (tD3) at (61,5) {};
\node[npre,label=below left:B1] (rB1) at (105,17) {};
\node[npre,label=above left:C2] (rC2) at (26,54) {};
\node[npst,label=above right:C2] (tC2) at (32,63) {};
\node[npre,label=above left:B3] (rB3) at (66,49) {};
\node[ndon] (dB) at (68,60) {};
\node[npst,label=left:B3] (tB3) at (65,68) {};
\node[ndon,label=below right:C] (dC) at (24,68) {};
\node[npre,label=above:C1] (rC1) at (44,68) {};
\node[npst,label=below left:C1] (tC1) at (42,77) {};
\node[npre,label=left:A2] (rA2) at (54,78) {};
\node[npre,label=below:C3] (rC3) at (6,81) {};
\node[npst,label=below:C3] (tC3) at (19,77) {};
\node[npst,label=right:A4] (tA4) at (27,91) {};
\node[npre,label=below:A4] (rA4) at (10,93) {};
\node[npre,label=left:A3] (rA3) at (41,110) {};
\node[npst,label=below right:A3] (tA3) at (44,104) {};
\node[ndon,label=right:A] (dA) at (52,99) {};
\node[npst,label=above right:A1] (tA1) at (58,92) {};
\node[npre,label=below:A1] (rA1) at (70,79) {};
\node[npst,label=above left:B1] (tB1) at (86,83) {};
\node[npre,label=above:D1] (rD1) at (90,78) {};
\node[npst,label=below right:B2] (tB2) at (115,68) {};
\node[npre,label=above left:B2] (rB2) at (125,64) {};
\node[npre,label=right:D2] (rD2) at (99,87) {};
\node[npst,label=left:D1] (tD1) at (86,93) {};
\node[npst,label=below right:D2] (tD2) at (91,91) {};
\node[ndon,label=below left:D] (dD) at (82,97) {};
\begin{scope}[on background layer]
\foreach \a/\b in {rB3/dB,tB3/rA1,tC2/tC3,dC/tC1,tC3/tA4,tA4/dA,tC1/rA2,rA2/tB3,tB3/tA1,tA1/rA1,rA1/tB1,tB1/tD1,rC1/tB3,tC1/tA4,tA4/tA3,tA3/dA,dA/tC1,tA1/tD1,tC1/dB,rA2/tA1}
  \draw[e0] (\a) -- (\b);
\draw[e1] (tB1) -- (tB2) (tA4) -- (rA4) (tC3) -- (dC);
\draw[e2] (rD3) -- (tD3) (rC2) -- (tC2) (tC2) -- (dC) (tC1) -- (rC1) (dA) -- (tA1) (rD1) -- (tB1) (tB2) -- (rB2) (tD1) -- (tD2) (tD2) -- (rD2) (dD) -- (tD1) (dB) -- (tB3) (tC3) -- (rC3);
\draw[e3] (tA3) -- (rA3);
\end{scope}
\end{scope}

\begin{scope}[shift={(431,447)},name prefix=wat-]
\panelframe{WatsonAR\_2021}{97}
\cloud{g}{10}{22}{103}{6}{5}{ndon}
\cloud{h}{8}{30}{98}{8}{6}{npst}
\cloud{k}{5}{37}{91}{3}{3}{ndon}
\node[npre,label=below left:A1] (rA1) at (60,5) {};
\node[npre,label=below left:B5] (rB5) at (125,78) {};
\node[npre,label=above right:A4] (rA4) at (26,56) {};
\node[npre,label=above left:A2] (rA2) at (18,67) {};
\node[npre,label=right:B1] (rB1) at (28,64) {};
\node[npst,label=above:B3] (tB3) at (15,73) {};
\node[npst,label=above:A2] (tA2) at (39,71) {};
\node[npst,label=above:A5] (tA5) at (52,75) {};
\node[npre,label=above:A5] (rA5) at (68,72) {};
\node[ndon,label=right:A] (dA1) at (79,76) {};
\node[npst,label=above:A3] (tA3) at (28,81) {};
\node[ndon,label=above:A] (dA2) at (41,81) {};
\node[npre,label=right:A3] (rA3) at (68,85) {};
\node[ndon,label=above:B] (dB1) at (5,81) {};
\node[npst,label=left:B4] (tB4) at (7,91) {};
\node[ndon,label=right:A] (dA3) at (57,95) {};
\node[npst,label=right:A1] (tA1) at (46,98) {};
\node[ndon,label=right:A] (dA4) at (67,99) {};
\node[ndon,label=left:B] (dB2) at (15,100) {};
\node[ndon,label=right:B] (dB3) at (45,110) {};
\node[npre,label=right:B2] (rB2) at (66,110) {};
\node[npst,label=right:B2] (tB2) at (24,110) {};
\node[npst,label=right:B5] (tB5) at (33,110) {};
\node[npre,label=right:B3] (rB3) at (6,110) {};
\begin{scope}[on background layer]
\mesh{g}{10}{1,2,4}{e2}
\mesh{h}{8}{1,3}{e2}
\mesh{k}{5}{1,2}{e3}
\fan{h}{8}{g1,g3,g5,g7,g9,k1,k3}{0,2}{e1}
\fan{h}{8}{rA4,rA2,rB1,rA5,rA3,rB2,rB3}{0}{lpre}
\fan{h}{8}{tB3,tA2,tA5,tA3,tB4,tA1,tB2,tB5}{0}{lpst}
\fan{g}{10}{dA1,dA2,dB1,dA3,dA4,dB2,dB3}{0}{ldon}
\end{scope}
\end{scope}

\begin{scope}[shift={(575,447)},name prefix=zha-]
\panelframe{ZhaoH\_2020}{65}
\node[npre,label=right:A2] (rA2) at (107,5) {};
\node[npst,label=below left:A] (tA) at (17,9) {};
\node[ndon] (d1) at (35,17) {};
\node[npst] (t2) at (53,14) {};
\node[ndon,label=above right:A] (d3) at (63,28) {};
\node[ndon,label=below:A] (d4) at (6,30) {};
\node[ndon] (d5) at (20,34) {};
\node[npst] (t6) at (47,34) {};
\node[ndon] (d7) at (21,49) {};
\node[npst] (t8) at (42,51) {};
\node[npst,label=below left:A3] (t9) at (62,50) {};
\node[npst] (t10) at (27,21) {};
\node[npre,label=below left:A1] (rA1) at (125,38) {};
\node[npre,label=below left:A3] (rA3) at (99,66) {};
\node[npre,label=above right:A5] (rA5) at (85,105) {};
\node[npre,label=left:A4] (rA4) at (17,109) {};
\begin{scope}[on background layer]
\foreach \a/\b in {d7/rA5,t8/rA5,d5/rA5,t9/rA5,d4/rA5,t6/rA5,d7/rA4,d4/rA4,t8/rA4,d5/rA4,t6/rA4,rA2/rA3,rA3/rA5,rA4/rA5,rA1/rA5,rA2/rA5,t10/rA4,tA/rA5}
  \draw[e0] (\a) -- (\b);
\foreach \a/\b in {d1/rA2,t2/rA2,d3/rA2,t9/rA2,d3/rA1,t6/rA1,t9/rA1,t2/rA1,t8/rA1,rA2/rA1,rA1/rA3,t10/rA2}
  \draw[e1] (\a) -- (\b);
\draw[e2] (t9) -- (rA3) (t6) -- (rA3) (d3) -- (rA3) (t8) -- (rA3);
\foreach \a/\b in {tA/d1,tA/t10,tA/d4,tA/d5,tA/t6,d1/t2,d1/t10,d1/t6,d1/d5,d1/t8,t2/d3,t2/t6,t2/t9,d3/t6,d3/t9,d3/t8,d4/d5,d4/d7,d4/t10,d5/t6,d5/d7,d5/t8,d5/t10,t6/t8,t6/t9,d7/t8,t8/t9,t10/t6,d7/t6,t2/t10,d1/t9,tA/t2,d4/t6}
  \draw[e3] (\a) -- (\b);
\end{scope}
\end{scope}

%% row 5
\begin{scope}[shift={(1,591)},name prefix=zou-]
\panelframe{ZouM\_2019}{55}
\cloud{h}{22}{78}{57}{44}{13}{npst}
\cloud{o}{6}{70}{55}{30}{10}{npre}
\cloud{g}{3}{60}{60}{20}{6}{ndon}
\node[npre,label=below right:A6] (rA6) at (5,5) {};
\node[npst,label=above left:A6] (tA6) at (88,31) {};
\node[npst,label=above right:A5] (tA5) at (101,31) {};
\node[npst,label=right:A2] (tA2) at (97,37) {};
\node[npre,label=above left:A2] (rA2) at (123,38) {};
\node[npre,label=above left:C1] (rC1) at (78,43) {};
\node[npst,label=left:C1] (tC1) at (67,43) {};
\node[npre,label=above left:B3] (rB3) at (30,51) {};
\node[npre,label=below:A5] (rA5) at (121,51) {};
\node[ndon,label=below left:A] (dA) at (26,61) {};
\node[ndon,label=left:C] (dC) at (46,68) {};
\node[npre,label=below:A3] (rA3) at (122,68) {};
\node[npst,label=below:D1] (tD1) at (90,68) {};
\node[npre,label=below right:D1] (rD1) at (104,69) {};
\node[npst,label=left:A4] (tA4) at (59,73) {};
\node[npst,label=below left:B1] (tB1) at (66,78) {};
\node[npst,label=below right:B2] (tB2) at (75,78) {};
\node[npre,label=below:B2] (rB2) at (68,85) {};
\node[npre,label=left:B1] (rB1) at (31,109) {};
\begin{scope}[on background layer]
\mesh{h}{22}{1,3,7}{e0}
\mesh{h}{22}{2,5}{e1}
\mesh{h}{22}{4}{e1}
\mesh{h}{22}{1}{e2}
\fan{h}{22}{o1,o2,o3,o4,o5,o6,g1,g2,g3}{0,6,12}{e1}
\fan{h}{22}{tA6,tA5,tA2,rA2,rC1,tC1,rB3,rA5,dA,dC,rA3,tD1,rD1,tA4,tB1,tB2}{0,5,10,15}{e0}
\fan{h}{22}{tA6,tC1,dC,tA4,tD1}{2}{e2}
\draw[e0] (rA6) -- (tA6) (rA6) -- (rB3) (rA6) -- (tC1) (rB1) -- (rB2) (rB1) -- (dA) (rB1) -- (tB1) (rA2) -- (rA5) (tB2) -- (rB2);
\draw[e2] (tD1) -- (rD1) (tA5) -- (tA2) (h3) -- (h9) (h5) -- (h14);
\draw[e3] (tC1) -- (rC1) (h2) -- (h7);
\end{scope}
\end{scope}

\begin{scope}[shift={(144,591)},name prefix=ian-]
\panelframe{IaniroG\_2020}{27}
\node[npre,label=right:A2] (rA2) at (64,5) {};
\node[npst,label=below left:A2] (tA2) at (36,10) {};
\node[ndon,label=above left:A] (dA) at (21,26) {};
\node[npst,label=above right:A3] (tA3) at (21,40) {};
\node[npre,label=below right:B2] (rB2) at (67,38) {};
\node[npre,label=above right:A3] (rA3) at (27,52) {};
\node[npst,label=below:B2] (tB2) at (50,45) {};
\node[npre,label=below left:B1] (rB1) at (124,44) {};
\node[npre,label=above right:A1] (rA1) at (90,74) {};
\node[npst,label=right:A1] (tA1) at (80,88) {};
\node[npre,label=below right:B3] (rB3) at (5,78) {};
\node[npst,label=below:B3] (tB3) at (34,84) {};
\node[ndon,label=right:B] (dB) at (67,99) {};
\node[npst,label=left:B1] (tB1) at (48,110) {};
\begin{scope}[on background layer]
\foreach \a/\b in {dA/tA3,tA2/tB2,tA2/rB2,dA/tB2,rA3/tB2,tA3/tB2,tB2/tA1,tB2/rA1,rB2/rB1,rB1/rA1,tB2/tB3,rA3/tB3,tB3/tB1,tB3/dB,rB3/tA3,rB2/tA1}
  \draw[e0] (\a) -- (\b);
\draw[e1] (dB) -- (tA1);
\draw[e2] (rA2) -- (tA2) (tA2) -- (dA) (tA3) -- (rA3) (tB2) -- (rB2) (rB3) -- (tB3);
\draw[e3] (tB1) -- (dB) (tA1) -- (rA1);
\end{scope}
\end{scope}

\begin{scope}[shift={(287,591)},name prefix=cdf-]
\panelframe{This\_study\_Cdiff}{54}
\cloud{h}{8}{41}{70}{5}{4}{npst}
\cloud{g}{3}{40}{72}{3}{3}{ndon}
\node[npre,label=right:D3] (rD3) at (48,5) {};
\node[npre,label=above right:A6] (rA6) at (104,12) {};
\node[npre,label=right:A3] (rA3) at (103,22) {};
\node[npre] (rA2b) at (100,27) {};
\node[npre,label=below left:A2] (rA2) at (99,30) {};
\node[npre,label=above:B3] (rB3) at (6,50) {};
\node[ndon,label=left:C] (dC) at (23,49) {};
\node[npst,label=above:E2] (tE2) at (29,50) {};
\node[npre,label=above:E2] (rE2) at (52,51) {};
\node[npre,label=above right:F3] (rF3) at (59,52) {};
\node[npre,label=above:E1] (rE1) at (77,52) {};
\node[npst,label=above left:B1] (tB1) at (20,66) {};
\node[npst,label=above:F1] (tF1) at (31,67) {};
\node[ndon,label=above:E] (dE) at (40,60) {};
\node[npst,label=above:B3] (tB3) at (53,62) {};
\node[npre,label=above:D1] (rD1) at (66,62) {};
\node[npre,label=right:A4] (rA4) at (75,67) {};
\node[npre,label=right:D2] (rD2) at (82,72) {};
\node[npst,label=right:A5] (tA5) at (58,67) {};
\node[npre,label=above right:A5] (rA5) at (93,80) {};
\node[npst,label=right:A4] (tA4) at (68,76) {};
\node[npst,label=right:A6] (tA6) at (73,83) {};
\node[npre,label=below left:F1] (rF1) at (125,84) {};
\node[ndon,label=above left:B] (dB) at (10,74) {};
\node[npre,label=below:C1] (rC1) at (6,82) {};
\node[npst,label=below left:C1] (tC1) at (22,80) {};
\node[npst,label=below:D3] (tD3) at (30,83) {};
\node[ndon,label=left:F] (dF) at (33,73) {};
\node[ndon,label=below:D] (dD) at (30,93) {};
\node[npst,label=below left:A2] (tA2) at (45,88) {};
\node[npst,label=below left:A1] (tA1) at (44,99) {};
\node[npst,label=below left:A3] (tA3) at (62,89) {};
\node[ndon,label=below:A] (dA) at (73,86) {};
\node[npre,label=below right:F2] (rF2) at (70,93) {};
\node[npre,label=right:A1] (rA1) at (61,109) {};
\begin{scope}[on background layer]
\mesh{h}{8}{1,2,3}{e2}
\mesh{g}{3}{1}{e3}
\fan{h}{8}{rE2,rF3,rE1,rD1,rA4,rD2,rA5,rC1,rF2,rA1}{0}{lpre}
\fan{h}{8}{tE2,tB1,tF1,tB3,tA5,tA4,tA6,tC1,tD3,tA2,tA1,tA3}{0}{lpst}
\fan{g}{3}{dC,dE,dB,dF,dD,dA}{0}{ldon}
\fan{h}{8}{rB3,rA5,rA2,rA4,dA,tA6}{2}{e0}
\draw[e0] (rA5) -- (rF1) (rA6) -- (rA3) (rA2b) -- (rA2);
\end{scope}
\end{scope}

\begin{scope}[shift={(431,591)},name prefix=mdr-]
\panelframe{This\_study\_MDRB}{32}
\node[npst] (tX) at (116,4) {};
\node[ndon,label=below left:B] (dB) at (68,8) {};
\node[npst,label=above:B1] (tB1) at (89,12) {};
\node[npre,label=above:B1] (rB1) at (114,19) {};
\node[npre,label=below left:A1] (rA1) at (45,15) {};
\node[npst,label=above right:A1] (tA1) at (73,41) {};
\node[npre,label=above left:A2] (rA2) at (124,49) {};
\node[ndon,label=below left:A] (dA1) at (66,55) {};
\node[ndon,label=right:A] (dA2) at (81,58) {};
\node[ndon,label=below:A] (dA3) at (73,67) {};
\node[npst,label=below left:A3] (tA3) at (45,67) {};
\node[npst,label=below:A4] (tA4) at (83,78) {};
\node[npre,label=below:A3] (rA3) at (6,94) {};
\node[npre,label=above right:A4] (rA4) at (92,109) {};
\begin{scope}[on background layer]
\foreach \a/\b in {tB1/rB1,rA1/dB,rA1/tA1,dB/tA1,tB1/tA1,rB1/tA1,rB1/rA2,tA1/rA2,rA2/dA2,tA4/rA4,tA3/rA3,tA1/tA4,tB1/rA4}
  \draw[e0] (\a) -- (\b);
\draw[e1] (tA3) -- (dA3) (dA3) -- (tA4) (dA2) -- (tA4);
\draw[e2] (dB) -- (tB1) (tA3) -- (dA1);
\draw[e3] (tA1) -- (dA1) (tA1) -- (dA2) (dA1) -- (dA2) (dA1) -- (dA3) (dA2) -- (dA3);
\end{scope}
\end{scope}

\begin{scope}[shift={(575,591)},name prefix=ibd-]
\panelframe{This\_study\_IBD}{18}
\node[ndon,label=above right:B] (dB) at (6,10) {};
\node[npst,label=right:B1] (tB1) at (40,7) {};
\node[npre,label=below:B1] (rB1) at (102,5) {};
\node[npst,label=above:A1] (tA1) at (28,109) {};
\node[npre,label=below:A1] (rA1) at (72,106) {};
\node[ndon,label=below:A] (dA) at (124,102) {};
\begin{scope}[on background layer]
\draw[e0] (tB1) -- (rB1);
\draw[e2] (tA1) -- (rA1) (rA1) -- (dA);
\draw[e3] (dB) -- (tB1);
\end{scope}
\end{scope}

%% legend
\node[legt] (legS) at (53,726) {Shared strains};
\coordinate (w0a) at (54,741); \coordinate (w0b) at (64,741);
\coordinate (w1a) at (54,752); \coordinate (w1b) at (64,752);
\coordinate (w2a) at (54,762); \coordinate (w2b) at (64,762);
\draw[draw=black!13,line width=0.6pt] (w0a) -- (w0b);
\draw[draw=black!55,line width=0.8pt] (w1a) -- (w1b);
\draw[draw=black,line width=1pt] (w2a) -- (w2b);
\node[legi] (w0t) at (73,741) {0\%};
\node[legi] (w1t) at (73,752) {50\%};
\node[legi] (w2t) at (73,762) {100\%};
\node[legt] (legT) at (131,726) {Sample type};
\node[ndon,minimum size=2.8pt] (kdon) at (140,740) {};
\node[npst,minimum size=2.8pt] (kpst) at (140,750) {};
\node[npre,minimum size=2.8pt] (kpre) at (140,760) {};
\node[legi] (kdont) at (149,740) {donor};
\node[legi] (kpstt) at (149,750) {post−FMT};
\node[legi] (kpret) at (149,760) {pre−FMT};
\end{tikzpicture}
\end{document}
